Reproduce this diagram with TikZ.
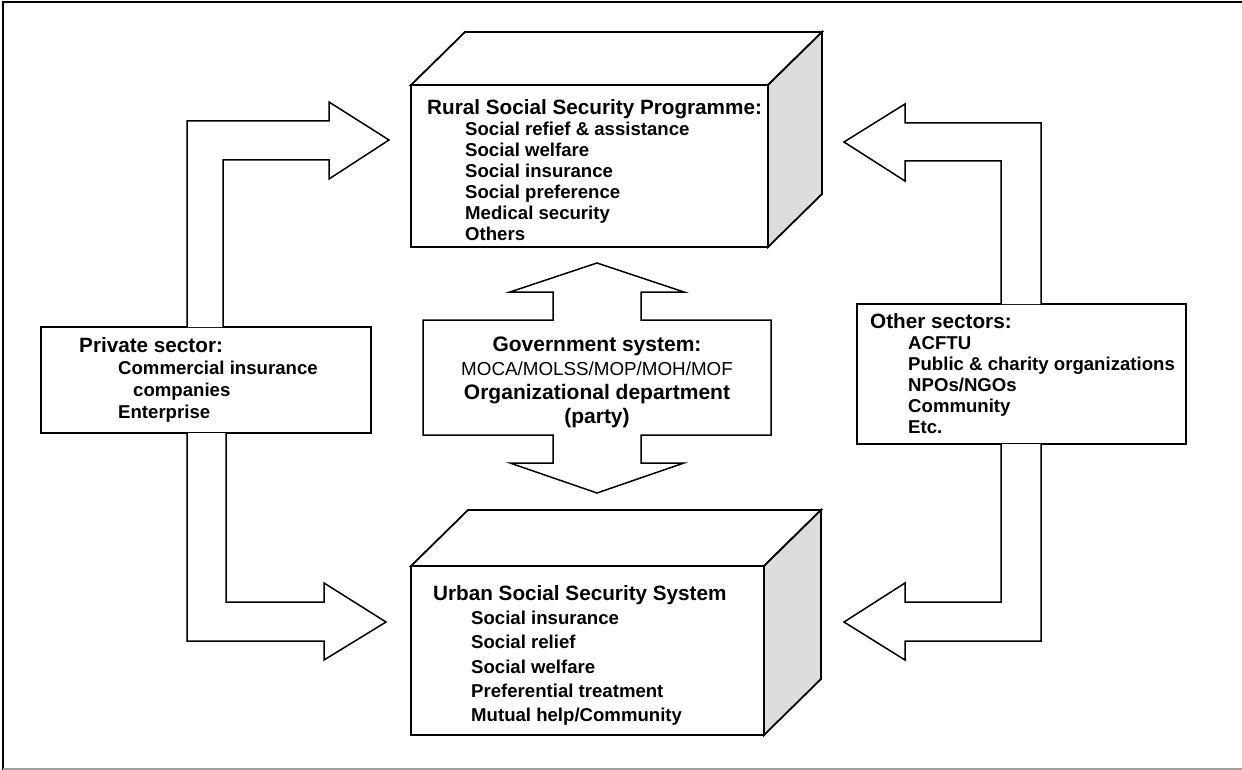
\documentclass[tikz,border=0pt]{standalone}
\usepackage{fontspec}
\setmainfont{Liberation Sans}
\definecolor{SideGray}{RGB}{221,221,223}
\definecolor{FrameGray}{RGB}{160,160,160}
\newcommand{\ind}{\hspace*{38pt}}
\newcommand{\headfont}{\fontsize{20.7}{21}\selectfont}

\begin{document}
\begin{tikzpicture}[x=1pt,y=-1pt,
    box/.style={draw,line width=1.8pt,fill=white,outer sep=0pt},
    boxtext/.style={anchor=west,inner sep=0pt,align=left,font=\fontsize{18.6}{21}\selectfont\bfseries},
    blockarrow/.style={draw,line width=1.5pt,fill=white,line join=miter},
    side/.style={draw,line width=1.8pt,fill=SideGray,line join=miter},
    topface/.style={draw,line width=1.8pt,fill=white,line join=miter}]
  \useasboundingbox (0,0) rectangle (1242,770);
  % frame
  \draw[line width=2pt] (3,770) -- (3,2) -- (1242,2);
  \draw[FrameGray,line width=1.5pt] (3,769) -- (1242,769);

  % side boxes
  \node[box,minimum width=330pt,minimum height=106pt] (priv) at (206,380) {};
  \node[box,minimum width=329pt,minimum height=140pt] (other) at (1021.5,374) {};

  % block arrows
  \draw[blockarrow] (187,0 |- priv.north) -- (187,121) -- (329,121) -- (329,102) -- (389,140)
    -- (329,179) -- (329,160) -- (223,160) -- (223,0 |- priv.north);
  \draw[blockarrow] (187,0 |- priv.south) -- (187,641) -- (324,641) -- (324,660) -- (386,622)
    -- (324,583) -- (324,602) -- (226,602) -- (226,0 |- priv.south);
  \draw[blockarrow] (1041,0 |- other.north) -- (1041,123) -- (905,123) -- (905,104) -- (844,142)
    -- (905,181) -- (905,161) -- (1001,161) -- (1001,0 |- other.north);
  \draw[blockarrow] (1041,0 |- other.south) -- (1041,641) -- (905,641) -- (905,660) -- (844,622)
    -- (905,583) -- (905,602) -- (1001,602) -- (1001,0 |- other.south);

  % text of side boxes
  \node[boxtext,font=\fontsize{18.6}{22}\selectfont\bfseries] (privtext) at (79,380) {{\headfont Private sector:}\\
    \hspace*{39pt}Commercial insurance\\
    \hspace*{54pt}companies\\
    \hspace*{39pt}Enterprise};
  \node[boxtext] (othertext) at (870,374) {{\headfont Other sectors:}\\
    \ind ACFTU\\
    \ind Public \& charity organizations\\
    \ind NPOs/NGOs\\
    \ind Community\\
    \ind Etc.};

  % rural cube
  \node[box,minimum width=357pt,minimum height=162pt] (rural) at (589.5,166) {};
  \draw[topface] (rural.north west) -- ++(54,-53) -- ([shift={(54,-53)}]rural.north east)
    -- (rural.north east) -- cycle;
  \draw[side] (rural.north east) -- ++(54,-53) -- ++(0,162) -- (rural.south east) -- cycle;
  \node[boxtext] (ruraltext) at (427,170) {{\headfont Rural Social Security Programme:}\\
    \ind Social refief \& assistance\\
    \ind Social welfare\\
    \ind Social insurance\\
    \ind Social preference\\
    \ind Medical security\\
    \ind Others};

  % urban cube
  \node[box,minimum width=353pt,minimum height=169pt] (urban) at (587.5,650.5) {};
  \draw[topface] (urban.north west) -- ++(57,-56) -- ([shift={(57,-56)}]urban.north east)
    -- (urban.north east) -- cycle;
  \draw[side] (urban.north east) -- ++(57,-56) -- ++(0,169) -- (urban.south east) -- cycle;
  \node[boxtext,font=\fontsize{18.6}{24.2}\selectfont\bfseries] (urbantext) at (433,655.5) {{\headfont Urban Social Security System}\\
    \ind Social insurance\\
    \ind Social relief\\
    \ind Social welfare\\
    \ind Preferential treatment\\
    \ind Mutual help/Community};

  % government system with double arrow
  \draw[blockarrow] (597,263) -- (684,292) -- (641,292) -- (641,320) -- (771,320) -- (771,435)
    -- (641,435) -- (641,463) -- (684,463) -- (597,493) -- (510,463) -- (553,463) -- (553,435)
    -- (423,435) -- (423,320) -- (553,320) -- (553,292) -- (510,292) -- cycle;
  \node[inner sep=0pt,align=center,font=\fontsize{18.8}{24}\selectfont] (gov) at (597,382) {%
    \textbf{\fontsize{21}{24}\selectfont Government system:}\\
    MOCA/MOLSS/MOP/MOH/MOF\\
    \textbf{\fontsize{21}{24}\selectfont Organizational department}\\
    \textbf{\fontsize{21}{24}\selectfont (party)}};
\end{tikzpicture}
\end{document}
